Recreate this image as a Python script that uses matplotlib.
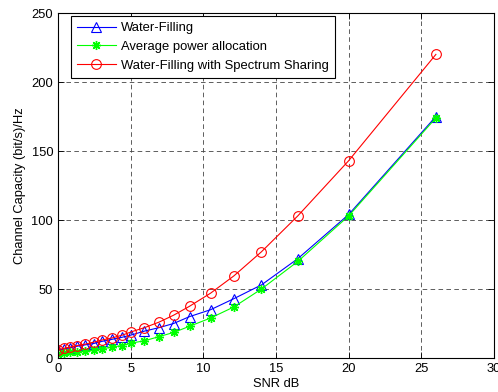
import matplotlib
matplotlib.use("Agg")
import matplotlib.pyplot as plt

plt.rcParams['font.family'] = ['Liberation Sans', 'DejaVu Sans']

snr_db = [0, 0.4, 0.85, 1.3, 1.85, 2.45, 3.0, 3.7, 4.4, 5.05, 5.95, 6.95, 7.95, 9.05, 10.5, 12.1, 14.0, 16.5, 20.0, 26.0]
water_filling = [5.5, 6.5, 7.5, 8.5, 9.5, 10.5, 12.0, 13.5, 15.0, 16.7, 19.5, 22.0, 25.0, 30.0, 35.0, 43.0, 53.0, 72.0, 104.0, 175.0]
average_power = [3.0, 3.5, 4.0, 4.5, 5.0, 5.5, 6.5, 8.0, 9.0, 10.8, 12.5, 15.5, 18.5, 23.0, 29.0, 37.0, 50.0, 70.0, 103.0, 174.0]
wf_spectrum = [6.0, 7.0, 8.0, 9.0, 10.0, 11.5, 13.0, 14.5, 16.5, 19.0, 22.0, 26.0, 31.0, 37.5, 47.0, 59.5, 77.0, 103.0, 143.0, 220.0]

labels = ['Water-Filling', 'Average power allocation', 'Water-Filling with Spectrum Sharing']
xticks = [0, 5, 10, 15, 20, 25, 30]
yticks = [0, 50, 100, 150, 200, 250]

fig = plt.figure(figsize=(4.98, 3.92), dpi=100)
ax = fig.add_axes([0.1165, 0.0867, 0.8755, 0.8801])

ax.plot(snr_db, water_filling, color='#0000ff', lw=0.8, marker='^', ms=7,
        mfc='none', mec='#0000ff', mew=0.8, label=labels[0])
ax.plot(snr_db, average_power, color='#00ff00', lw=0.8, marker=(8, 2, 0), ms=6.5,
        mfc='#00ff00', mec='#00ff00', mew=1.0, label=labels[1])
ax.plot(snr_db, wf_spectrum, color='#ff0000', lw=0.8, marker='o', ms=7,
        mfc='none', mec='#ff0000', mew=0.8, label=labels[2])

ax.set_xlim(0, 30)
ax.set_ylim(0, 250)
ax.set_xticks(xticks)
ax.set_yticks(yticks)
ax.tick_params(direction='in', top=True, right=True, labelsize=9.3, length=4, width=0.6)
ax.grid(True, color='#444444', lw=0.6, linestyle=(0, (5.5, 4.0)))
for s in ax.spines.values():
    s.set_linewidth(0.8)

ax.set_xlabel('SNR dB', fontsize=9.3, labelpad=2)
ax.set_ylabel('Channel Capacity (bit/s)/Hz', fontsize=9.3, labelpad=4)

leg = ax.legend(loc='upper left', bbox_to_anchor=(0.0297, 0.991), borderaxespad=0,
                fontsize=9.4, fancybox=False, framealpha=1,
                edgecolor='black', borderpad=0.45, labelspacing=0.52,
                handlelength=3.0, handletextpad=0.4)
leg.get_frame().set_linewidth(0.8)

fig.savefig('out.png', dpi=100)
